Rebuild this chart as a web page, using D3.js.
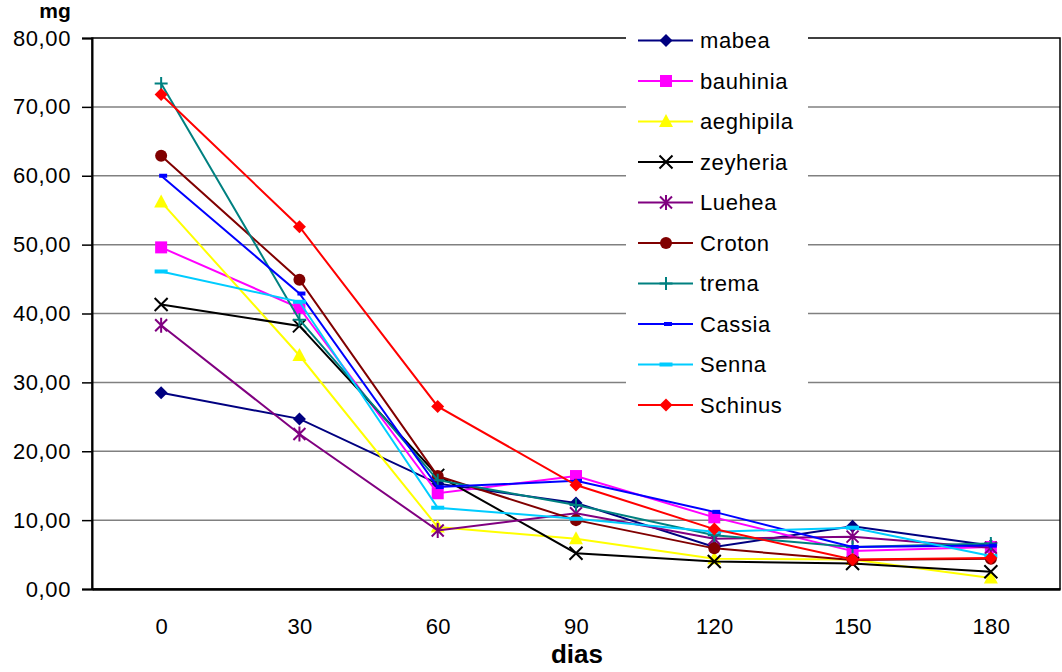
<!DOCTYPE html>
<html>
<head>
<meta charset="utf-8">
<script src="https://cdn.jsdelivr.net/npm/d3@7"></script>
<style>
  html, body { margin: 0; padding: 0; background: #fff; }
  svg { display: block; font-family: "Liberation Sans", Arial, sans-serif; }
</style>
</head>
<body>
<svg id="chart" width="1062" height="672"></svg>
<script>
// Days of decomposition (x categories)
const dias = ["0", "30", "60", "90", "120", "150", "180"];

// Remaining mass (mg) per species
const mabea     = [28.5, 24.7, 15.3, 12.5, 6.1, 9.1, 6.3];
const bauhinia  = [49.6, 40.8, 13.9, 16.4, 10.4, 5.5, 6.1];
const aeghipila = [56.2, 33.9, 9.0, 7.3, 4.4, 4.3, 1.6];
const zeyheria  = [41.3, 38.2, 16.5, 5.2, 4.0, 3.7, 2.5];
const luehea    = [38.3, 22.5, 8.5, 11.0, 7.3, 7.6, 6.0];
const croton    = [62.9, 44.9, 16.4, 10.0, 5.9, 4.2, 4.4];
const trema     = [73.4, 39.1, 15.8, 12.2, 7.8, 6.1, 6.6];
const cassia    = [60.0, 42.9, 14.8, 15.7, 11.2, 6.1, 6.3];
const senna     = [46.1, 41.7, 11.8, 10.2, 8.3, 8.9, 4.8];
const schinus   = [71.8, 52.6, 26.5, 15.1, 8.7, 4.3, 4.5];

const yTicks = [0, 10, 20, 30, 40, 50, 60, 70, 80];

const series = [
  { name: "mabea",     values: mabea,     color: "#000080", marker: "diamond" },
  { name: "bauhinia",  values: bauhinia,  color: "#FF00FF", marker: "square" },
  { name: "aeghipila", values: aeghipila, color: "#FFFF00", marker: "triangle" },
  { name: "zeyheria",  values: zeyheria,  color: "#000000", marker: "x" },
  { name: "Luehea",    values: luehea,    color: "#800080", marker: "star" },
  { name: "Croton",    values: croton,    color: "#800000", marker: "circle" },
  { name: "trema",     values: trema,     color: "#008080", marker: "plus" },
  { name: "Cassia",    values: cassia,    color: "#0000FF", marker: "shortdash" },
  { name: "Senna",     values: senna,     color: "#00CCFF", marker: "longdash" },
  { name: "Schinus",   values: schinus,   color: "#FF0000", marker: "diamond" }
];

const FONT = "Liberation Sans, Arial, sans-serif";
const svg = d3.select("#chart");
const plot = { left: 92, right: 1060, top: 38, bottom: 589 };

const x = d3.scalePoint().domain(dias).range([plot.left, plot.right]).padding(0.5);
const y = d3.scaleLinear().domain([0, 80]).range([plot.bottom, plot.top]);

const fmt = v => d3.format(".2f")(v).replace(".", ",");

// Horizontal gridlines
svg.append("g")
  .selectAll("line")
  .data(yTicks.filter(t => t > 0 && t < 80))
  .join("line")
  .attr("x1", plot.left).attr("x2", plot.right)
  .attr("y1", d => y(d)).attr("y2", d => y(d))
  .attr("stroke", "#808080").attr("stroke-width", 1.5);

// Plot area frame
svg.append("rect")
  .attr("x", plot.left).attr("y", plot.top)
  .attr("width", plot.right - plot.left).attr("height", plot.bottom - plot.top)
  .attr("fill", "none").attr("stroke", "#000").attr("stroke-width", 1.5);

// Y axis with outward ticks
const yAxis = d3.axisLeft(y).tickValues(yTicks).tickFormat(fmt).tickSize(10).tickPadding(11);
const gy = svg.append("g").attr("transform", `translate(${plot.left},0)`).call(yAxis);
gy.attr("font-size", null).attr("font-family", null);
gy.select(".domain").attr("stroke", "#000").attr("stroke-width", 2);
gy.selectAll(".tick line").attr("stroke", "#000").attr("stroke-width", 1.5);
gy.selectAll(".tick text").attr("font-size", 22).attr("letter-spacing", 0.6)
  .attr("fill", "#000").attr("font-family", FONT);

// X axis labels
const xAxis = d3.axisBottom(x).tickSize(0).tickPadding(29);
const gx = svg.append("g").attr("transform", `translate(0,${plot.bottom})`).call(xAxis);
gx.attr("font-size", null).attr("font-family", null);
gx.select(".domain").attr("stroke", "#000").attr("stroke-width", 2.5);
gx.selectAll(".tick text").attr("font-size", 22).attr("letter-spacing", 0.3)
  .attr("fill", "#000").attr("font-family", FONT);

// Axis titles
svg.append("text").attr("x", 55).attr("y", 18).attr("text-anchor", "middle")
  .attr("font-size", 21).attr("font-weight", "bold").attr("font-family", FONT).text("mg");
svg.append("text").attr("x", 577).attr("y", 663).attr("text-anchor", "middle")
  .attr("font-size", 26).attr("font-weight", "bold").attr("font-family", FONT).text("dias");

// Marker drawing
function drawMarker(g, type, color) {
  switch (type) {
    case "diamond":
      g.append("path").attr("d", "M0,-6.5L6.5,0L0,6.5L-6.5,0Z").attr("fill", color);
      break;
    case "square":
      g.append("rect").attr("x", -6).attr("y", -6).attr("width", 12).attr("height", 12).attr("fill", color);
      break;
    case "triangle":
      g.append("path").attr("d", "M0,-7.5L7,5.5L-7,5.5Z").attr("fill", color);
      break;
    case "circle":
      g.append("circle").attr("r", 6).attr("fill", color);
      break;
    case "x":
      g.append("path").attr("d", "M-6.5,-6.5L6.5,6.5M-6.5,6.5L6.5,-6.5").attr("stroke", color).attr("stroke-width", 2);
      break;
    case "star":
      g.append("path").attr("d", "M-6,-6L6,6M-6,6L6,-6M0,-7.5L0,7.5").attr("stroke", color).attr("stroke-width", 2);
      break;
    case "plus":
      g.append("path").attr("d", "M-6.5,0L6.5,0M0,-6.5L0,6.5").attr("stroke", color).attr("stroke-width", 2);
      break;
    case "shortdash":
      g.append("rect").attr("x", -2).attr("y", -2).attr("width", 8).attr("height", 4).attr("fill", color);
      break;
    case "longdash":
      g.append("rect").attr("x", -6.5).attr("y", -2).attr("width", 13).attr("height", 4).attr("fill", color);
      break;
  }
}

const line = d3.line().x((d, i) => x(dias[i])).y(d => y(d));

const gs = svg.append("g").selectAll("g.series").data(series).join("g").attr("class", "series");
gs.append("path")
  .attr("d", s => line(s.values))
  .attr("fill", "none")
  .attr("stroke", s => s.color)
  .attr("stroke-width", 2);
gs.each(function (s) {
  const g = d3.select(this);
  s.values.forEach((v, i) => {
    const m = g.append("g").attr("transform", `translate(${x(dias[i])},${y(v)})`);
    drawMarker(m, s.marker, s.color);
  });
});

// Legend
const legend = svg.append("g");
legend.append("rect").attr("x", 626).attr("y", 22).attr("width", 182).attr("height", 404).attr("fill", "#fff");
series.forEach((s, i) => {
  const cy = 40.5 + i * 40.5;
  const item = legend.append("g");
  item.append("line").attr("x1", 638).attr("x2", 693).attr("y1", cy).attr("y2", cy)
    .attr("stroke", s.color).attr("stroke-width", 2);
  const m = item.append("g").attr("transform", `translate(666,${cy})`);
  drawMarker(m, s.marker, s.color);
  item.append("text").attr("x", 700).attr("y", cy + 7.5).attr("font-size", 22)
    .attr("letter-spacing", 0.6).attr("fill", "#000").attr("font-family", FONT).text(s.name);
});
</script>
</body>
</html>
